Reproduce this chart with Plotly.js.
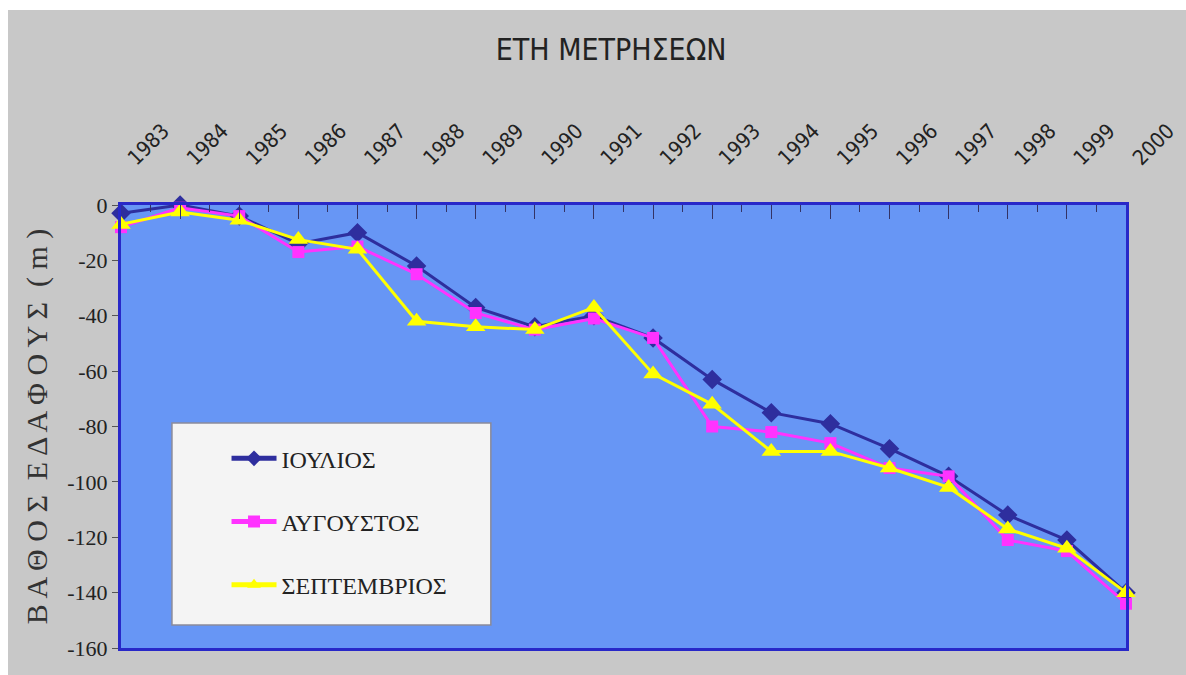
<!DOCTYPE html>
<html>
<head>
<meta charset="utf-8">
<script src="https://cdn.plot.ly/plotly-3.0.1.min.js"></script>
<style>
html, body { margin: 0; padding: 0; background: #ffffff; width: 1186px; height: 675px; overflow: hidden; }
#chart { position: absolute; left: 8px; top: 10px; width: 1178px; height: 665px; }
</style>
</head>
<body>
<div id="chart"></div>
<script>
// Years of measurement (top axis categories)
const years = [1983, 1984, 1985, 1986, 1987, 1988, 1989, 1990, 1991, 1992, 1993, 1994, 1995, 1996, 1997, 1998, 1999, 2000];

// Depth of ground surface (m)
const july      = [-3, 0, -4, -14, -10, -22, -37, -44, -40, -48, -63, -75, -79, -88, -98, -112, -121, -140];
const august    = [-8, -1, -4, -17, -15, -25, -39, -45, -41, -48, -80, -82, -86, -95, -98, -121, -125, -144];
const september = [-7, -2.5, -5.5, -12.5, -16, -42, -44, -45, -37, -61, -72, -89, -89, -95, -102, -117, -124, -140];

// Y axis tick values and labels (plain hyphen as in the original)
const yTickVals   = [0, -20, -40, -60, -80, -100, -120, -140, -160];
const yTickLabels = ['0', '-20', '-40', '-60', '-80', '-100', '-120', '-140', '-160'];

const seriesNames = ['ΙΟΥΛΙΟΣ', 'ΑΥΓΟΥΣΤΟΣ', 'ΣΕΠΤΕΜΒΡΙΟΣ'];
const titleText = 'ΕΤΗ ΜΕΤΡΗΣΕΩΝ';
const yTitleText = 'Β Α Θ Ο Σ  Ε Δ Α Φ Ο Υ Σ  ( m )';

const traces = [
  {
    x: years, y: july, name: seriesNames[0], legendgroup: 'a',
    type: 'scatter', mode: 'lines+markers', cliponaxis: false,
    line: { color: '#2E2E9E', width: 3 },
    marker: { symbol: 'diamond', size: 15, color: '#2E2E9E' }
  },
  {
    x: years, y: august, name: seriesNames[1], legendgroup: 'b',
    type: 'scatter', mode: 'lines+markers', cliponaxis: false,
    line: { color: '#FF33FF', width: 3 },
    marker: { symbol: 'square', size: 12, color: '#FF33FF' }
  },
  {
    x: years, y: september, name: seriesNames[2], legendgroup: 'c',
    type: 'scatter', mode: 'lines+markers', cliponaxis: false,
    line: { color: '#FFFF00', width: 3 },
    marker: { symbol: 'triangle-up', size: 17, color: '#FFFF00' }
  }
];

const sansNarrow = 'Liberation Sans Narrow, DejaVu Sans Condensed, Arial, sans-serif';
const serif = 'Liberation Serif, Times New Roman, serif';

const layout = {
  width: 1178, height: 665,
  paper_bgcolor: '#C8C8C8',
  plot_bgcolor: '#6796F5',
  margin: { l: 113, r: 60, t: 195, b: 27, pad: 0 },
  showlegend: true,
  title: {
    text: titleText,
    font: { family: sansNarrow, size: 30, color: '#222222' },
    x: 0.512, xref: 'container', xanchor: 'center',
    y: 0.94, yref: 'container', yanchor: 'middle'
  },
  xaxis: {
    type: 'linear',
    side: 'top',
    range: [1983, 2000],
    dtick: 1,
    tick0: 1983,
    tickangle: -45,
    ticks: 'inside',
    ticklen: 14,
    tickwidth: 1,
    tickcolor: '#333366',
    ticklabelstandoff: 24,
    ticklabelshift: 8,
    ticklabeloverflow: 'allow',
    minor: { dtick: 0.5, ticks: 'inside', ticklen: 7, tickwidth: 1, tickcolor: '#333366', showgrid: false },
    showgrid: false,
    zeroline: false,
    showline: true,
    linecolor: '#2828C8',
    linewidth: 3,
    mirror: true,
    tickfont: { family: sansNarrow, size: 21, color: '#222222' },
    fixedrange: true
  },
  yaxis: {
    range: [-160, 0],
    tickmode: 'array',
    tickvals: yTickVals,
    ticktext: yTickLabels,
    ticks: 'outside',
    ticklen: 6,
    tickwidth: 1,
    tickcolor: '#555555',
    showgrid: false,
    zeroline: false,
    showline: true,
    linecolor: '#2828C8',
    linewidth: 3,
    mirror: true,
    tickfont: { family: serif, size: 22, color: '#222222' },
    title: {
      text: yTitleText,
      font: { family: serif, size: 30, color: '#333333' },
      standoff: 11
    },
    fixedrange: true
  },
  legend: {
    x: 0.105, xanchor: 'left',
    y: 0.478, yanchor: 'top',
    bgcolor: 'rgba(0,0,0,0)',
    borderwidth: 0,
    font: { family: serif, size: 24, color: '#222222' },
    tracegroupgap: 29,
    itemwidth: 45,
    itemsizing: 'constant'
  },
  shapes: [
    {
      type: 'rect', xref: 'paper', yref: 'paper',
      x0: 0.0507, x1: 0.368, y0: 0.052, y1: 0.508,
      fillcolor: '#F4F4F4', line: { color: '#8A8A9A', width: 1.5 },
      layer: 'below'
    }
  ]
};

Plotly.newPlot('chart', traces, layout, { displayModeBar: false, staticPlot: true });
</script>
</body>
</html>
